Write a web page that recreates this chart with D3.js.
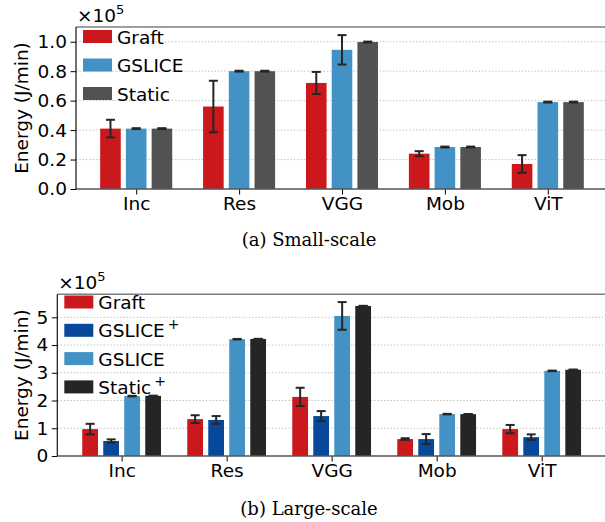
<!DOCTYPE html>
<html>
<head>
<meta charset="utf-8">
<script src="https://cdn.jsdelivr.net/npm/d3@7"></script>
<style>
  body { margin: 0; background: #fff; }
  svg text { font-family: "DejaVu Sans", sans-serif; fill: #000; }
  .caption { font-family: "DejaVu Serif", serif; }
</style>
</head>
<body>
<svg id="chart" width="605" height="522"></svg>
<script>
var categories = ["Inc", "Res", "VGG", "Mob", "ViT"];

// small-scale (x1e5 J/min)
var smallGraft     = [0.41, 0.56, 0.72, 0.24, 0.17];
var smallGraftErr  = [0.06, 0.175, 0.075, 0.017, 0.06];
var smallGslice    = [0.41, 0.80, 0.945, 0.285, 0.59];
var smallGsliceErr = [0.003, 0.003, 0.10, 0.003, 0.003];
var smallStatic    = [0.41, 0.80, 0.998, 0.285, 0.59];
var smallStaticErr = [0.003, 0.003, 0.003, 0.003, 0.003];
var smallTicks = [0, 0.2, 0.4, 0.6, 0.8, 1.0];

// large-scale (x1e5 J/min)
var largeGraft      = [0.97, 1.33, 2.13, 0.61, 0.97];
var largeGraftErr   = [0.19, 0.14, 0.33, 0.03, 0.15];
var largeGsliceP    = [0.54, 1.30, 1.44, 0.61, 0.68];
var largeGslicePErr = [0.06, 0.14, 0.18, 0.18, 0.10];
var largeGslice     = [2.16, 4.21, 5.05, 1.51, 3.07];
var largeGsliceErr  = [0.01, 0.01, 0.50, 0.01, 0.01];
var largeStaticP    = [2.17, 4.22, 5.41, 1.51, 3.11];
var largeStaticPErr = [0.005, 0.005, 0.005, 0.005, 0.005];
var largeTicks = [0, 1, 2, 3, 4, 5];

var svg = d3.select("#chart");
var fontSize = 18.5;

function drawPanel(opt) {
    var g = svg.append("g");
    var x = d3.scaleLinear().domain(opt.xDomain).range([opt.left, opt.right]);
    var y = d3.scaleLinear().domain([0, opt.yMax]).range([opt.bottom, opt.top]);
    var n = opt.series.length;

    // grid
    g.append("g").selectAll("line")
        .data(opt.ticks.filter(function(t) { return t > 0; }))
        .enter().append("line")
        .attr("x1", opt.left).attr("x2", opt.right)
        .attr("y1", function(d) { return y(d); })
        .attr("y2", function(d) { return y(d); })
        .attr("stroke", "#c4c4c4")
        .attr("stroke-width", 1)
        .attr("stroke-dasharray", "1.5,1.8");

    // bars + errors
    opt.series.forEach(function(s, si) {
        var off = (si - (n - 1) / 2) * opt.step;
        var sg = g.append("g");
        sg.selectAll("rect")
            .data(s.values)
            .enter().append("rect")
            .attr("x", function(d, i) { return x(i + off - opt.width / 2); })
            .attr("width", x(opt.width) - x(0))
            .attr("y", function(d) { return y(d); })
            .attr("height", function(d) { return y(0) - y(d); })
            .attr("fill", s.color);
        var eg = sg.selectAll("g.err")
            .data(s.values.map(function(v, i) { return {v: v, e: s.err[i], i: i}; }))
            .enter().append("g").attr("class", "err")
            .attr("stroke", "#262626")
            .attr("stroke-width", 2);
        eg.append("line")
            .attr("x1", function(d) { return x(d.i + off); })
            .attr("x2", function(d) { return x(d.i + off); })
            .attr("y1", function(d) { return y(d.v - d.e); })
            .attr("y2", function(d) { return y(d.v + d.e); });
        [-1, 1].forEach(function(sign) {
            eg.append("line")
                .attr("x1", function(d) { return x(d.i + off) - 4.5; })
                .attr("x2", function(d) { return x(d.i + off) + 4.5; })
                .attr("y1", function(d) { return y(d.v + sign * d.e); })
                .attr("y2", function(d) { return y(d.v + sign * d.e); });
        });
    });

    // axes
    var ya = g.append("g")
        .attr("transform", "translate(" + opt.left + ",0)")
        .call(d3.axisLeft(y).tickValues(opt.ticks).tickFormat(opt.fmt).tickSize(5.5).tickPadding(3.5));
    ya.select(".domain").remove();
    ya.selectAll("text").style("font-size", fontSize + "px").attr("font-family", "DejaVu Sans");
    ya.selectAll("line").attr("stroke", "#000");

    var xa = g.append("g")
        .attr("transform", "translate(0," + opt.bottom + ")")
        .call(d3.axisBottom(x).tickValues(d3.range(categories.length))
            .tickFormat(function(i) { return categories[i]; }).tickSize(5.5).tickPadding(2));
    xa.select(".domain").remove();
    xa.selectAll("text").style("font-size", fontSize + "px").attr("font-family", "DejaVu Sans");
    xa.selectAll("line").attr("stroke", "#000");

    // spines
    g.append("line").attr("x1", opt.left).attr("x2", opt.right)
        .attr("y1", opt.top).attr("y2", opt.top)
        .attr("stroke", "#7f7f7f").attr("stroke-width", 1.5);
    g.append("line").attr("x1", opt.left).attr("x2", opt.right)
        .attr("y1", opt.bottom).attr("y2", opt.bottom)
        .attr("stroke", "#555").attr("stroke-width", 1.5);
    g.append("line").attr("x1", opt.left).attr("x2", opt.left)
        .attr("y1", opt.top).attr("y2", opt.bottom)
        .attr("stroke", "#111").attr("stroke-width", 1.2);

    // y label
    g.append("text")
        .attr("transform", "translate(" + opt.ylabelX + "," + ((opt.top + opt.bottom) / 2) + ") rotate(-90)")
        .attr("text-anchor", "middle")
        .attr("dy", "0.35em")
        .style("font-size", fontSize + "px")
        .text("Energy (J/min)");

    // offset text
    var ot = g.append("text")
        .attr("x", opt.left + 1)
        .attr("y", opt.top - 5)
        .style("font-size", fontSize + "px");
    ot.append("tspan").text("\u00d710");
    ot.append("tspan").attr("dy", -8).style("font-size", "13px").text("5");

    // legend
    var lg = g.append("g");
    opt.series.forEach(function(s, si) {
        var yy = opt.legendTop + si * opt.legendStep;
        lg.append("rect")
            .attr("x", opt.left + 7).attr("y", yy)
            .attr("width", 29).attr("height", 13)
            .attr("fill", s.color);
        var t = lg.append("text")
            .attr("x", opt.left + 41).attr("y", yy + 13.5)
            .style("font-size", fontSize + "px");
        t.append("tspan").text(s.name);
        if (s.plus) {
            t.append("tspan").attr("dx", 3).attr("dy", -8).style("font-size", "14px").text("+");
        }
    });

    // caption
    svg.append("text")
        .attr("class", "caption")
        .attr("x", opt.capX).attr("y", opt.capY)
        .attr("text-anchor", "middle")
        .style("font-size", "18px")
        .style("font-family", "DejaVu Serif")
        .text(opt.caption);
}

drawPanel({
    left: 76, right: 608, top: 27, bottom: 189,
    xDomain: [-0.585, 4.585], yMax: 1.1,
    step: 0.25, width: 0.2,
    ticks: smallTicks, fmt: d3.format(".1f"),
    ylabelX: 22,
    legendTop: 30, legendStep: 28.5,
    capX: 309, capY: 246, caption: "(a) Small-scale",
    series: [
        {name: "Graft", color: "#cb181d", values: smallGraft, err: smallGraftErr},
        {name: "GSLICE", color: "#4292c6", values: smallGslice, err: smallGsliceErr},
        {name: "Static", color: "#525252", values: smallStatic, err: smallStaticErr}
    ]
});

drawPanel({
    left: 57.3, right: 606, top: 294.3, bottom: 456,
    xDomain: [-0.6125, 4.6125], yMax: 5.83,
    step: 0.2, width: 0.15,
    ticks: largeTicks, fmt: d3.format("d"),
    ylabelX: 22,
    legendTop: 295.5, legendStep: 28.3,
    capX: 309, capY: 515, caption: "(b) Large-scale",
    series: [
        {name: "Graft", color: "#cb181d", values: largeGraft, err: largeGraftErr},
        {name: "GSLICE", plus: true, color: "#08489a", values: largeGsliceP, err: largeGslicePErr},
        {name: "GSLICE", color: "#4292c6", values: largeGslice, err: largeGsliceErr},
        {name: "Static", plus: true, color: "#252525", values: largeStaticP, err: largeStaticPErr}
    ]
});
</script>
</body>
</html>
